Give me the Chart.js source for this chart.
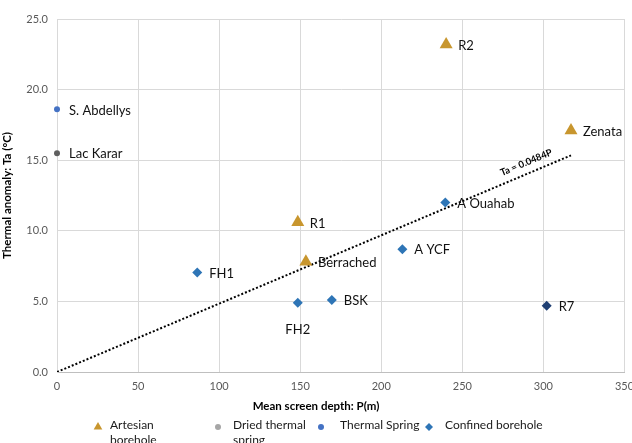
<!DOCTYPE html>
<html>
<head>
<meta charset="utf-8">
<script src="https://cdn.jsdelivr.net/npm/chart.js@4.4.1/dist/chart.umd.min.js"></script>
<style>
  html, body { margin: 0; padding: 0; background: #ffffff; }
  #wrap { width: 632px; height: 443px; }
</style>
</head>
<body>
<div id="wrap"><canvas id="chart" width="632" height="443"></canvas></div>
<script>
// Mean screen depth P (m) and thermal anomaly Ta (°C) per site
const artesianNames = ['R2', 'Zenata', 'R1', 'Berrached'];
const artesianDepth = [240, 317, 148.5, 153.5];
const artesianTa    = [23.2, 17.1, 10.6, 7.8];

const driedNames = ['Lac Karar'];
const driedDepth = [0];
const driedTa    = [15.5];

const springNames = ['S. Abdellys'];
const springDepth = [0];
const springTa    = [18.6];

const confinedNames = ['A Ouahab', 'FH1', 'FH2', 'BSK', 'A YCF', 'R7'];
const confinedDepth = [239.5, 86.5, 148.5, 169.5, 213, 302];
const confinedTa    = [12.0, 7.05, 4.9, 5.1, 8.7, 4.7];

// Regression through the origin: Ta = 0.0484 P
const trendSlope = 0.0484;
const trendRange = [0, 317];

const xTicks = [0, 50, 100, 150, 200, 250, 300, 350];
const yTicks = [0, 5, 10, 15, 20, 25];

const legendNames = ['Artesian\nborehole', 'Dried thermal\nspring', 'Thermal Spring', 'Confined borehole'];

const GOLD = '#C8962E';
const BLUE_SPRING = '#4472C4';
const BLUE_CONF = '#2E75B6';
const NAVY = '#1F3F73';
const GREY_DARK = '#5f5f5f';
const GREY_LEG = '#A6A6A6';

function pts(xs, ys, names) {
  return xs.map((x, i) => ({ x: x, y: ys[i], name: names[i] }));
}

// label placement per site: default to the right of the marker
const labelBelow = { 'FH2': true };

const dataLabels = {
  id: 'dataLabels',
  afterDatasetsDraw(chart) {
    const ctx = chart.ctx;
    ctx.save();
    ctx.font = '13px Lato';
    ctx.fillStyle = '#111111';
    ctx.textBaseline = 'middle';
    chart.data.datasets.forEach((ds, di) => {
      if (!ds.showLabels) return;
      const meta = chart.getDatasetMeta(di);
      meta.data.forEach((el, i) => {
        const name = ds.data[i].name;
        if (labelBelow[name]) {
          ctx.textAlign = 'center';
          ctx.fillText(name, el.x, el.y + 27);
        } else {
          ctx.textAlign = 'left';
          ctx.fillText(name, el.x + 12, el.y + 1);
        }
      });
    });

    // equation label along the trend line
    const xs = chart.scales.x, ys = chart.scales.y;
    const p0x = xs.getPixelForValue(trendRange[0]), p0y = ys.getPixelForValue(trendRange[0] * trendSlope);
    const p1x = xs.getPixelForValue(trendRange[1]), p1y = ys.getPixelForValue(trendRange[1] * trendSlope);
    const ang = Math.atan2(p1y - p0y, p1x - p0x);
    const px = xs.getPixelForValue(292), py = ys.getPixelForValue(292 * trendSlope);
    ctx.translate(px, py);
    ctx.rotate(ang);
    ctx.font = 'bold 9.5px Lato';
    ctx.fillStyle = '#000';
    ctx.textAlign = 'center';
    ctx.textBaseline = 'bottom';
    ctx.fillText('Ta = 0.0484P', 0, -6);
    ctx.restore();
  }
};

const bottomLegend = {
  id: 'bottomLegend',
  afterDraw(chart) {
    const ctx = chart.ctx;
    ctx.save();
    // x axis title
    ctx.font = 'bold 11.5px Lato';
    ctx.fillStyle = '#000';
    ctx.textAlign = 'center';
    ctx.textBaseline = 'middle';
    ctx.fillText('Mean screen depth: P(m)', 316, 406);

    const items = [
      { style: 'triangle', color: GOLD, mx: 98, tx: 110, r: 5 },
      { style: 'circle', color: GREY_LEG, mx: 218, tx: 233, r: 3 },
      { style: 'circle', color: BLUE_SPRING, mx: 321, tx: 340, r: 3 },
      { style: 'rectRot', color: BLUE_CONF, mx: 429, tx: 445, r: 4 }
    ];
    ctx.font = '12px Lato';
    ctx.textAlign = 'left';
    items.forEach((it, i) => {
      ctx.fillStyle = it.color;
      ctx.strokeStyle = it.color;
      Chart.helpers.drawPoint(ctx, { pointStyle: it.style, radius: it.r, borderWidth: 0, rotation: 0 }, it.mx, 427);
      ctx.fillStyle = '#1a1a1a';
      legendNames[i].split('\n').forEach((line, k) => {
        ctx.fillText(line, it.tx, 425 + k * 15);
      });
    });
    ctx.restore();
  }
};

new Chart(document.getElementById('chart'), {
  type: 'scatter',
  data: {
    datasets: [
      {
        label: 'Trend',
        type: 'line',
        data: trendRange.map(p => ({ x: p, y: p * trendSlope })),
        borderColor: '#000',
        borderWidth: 2,
        borderDash: [2, 2],
        pointRadius: 0,
        fill: false,
        order: 5
      },
      {
        label: 'Artesian borehole',
        data: pts(artesianDepth, artesianTa, artesianNames),
        pointStyle: 'triangle',
        pointRadius: 7.5,
        backgroundColor: GOLD,
        borderColor: GOLD,
        borderWidth: 0,
        clip: false,
        showLabels: true
      },
      {
        label: 'Dried thermal spring',
        data: pts(driedDepth, driedTa, driedNames),
        pointStyle: 'circle',
        pointRadius: 3,
        backgroundColor: GREY_DARK,
        borderColor: GREY_DARK,
        borderWidth: 0,
        clip: false,
        showLabels: true
      },
      {
        label: 'Thermal Spring',
        data: pts(springDepth, springTa, springNames),
        pointStyle: 'circle',
        pointRadius: 3,
        backgroundColor: BLUE_SPRING,
        borderColor: BLUE_SPRING,
        borderWidth: 0,
        clip: false,
        showLabels: true
      },
      {
        label: 'Confined borehole',
        data: pts(confinedDepth, confinedTa, confinedNames),
        pointStyle: 'rectRot',
        pointRadius: 5,
        backgroundColor: confinedNames.map(n => n === 'R7' ? NAVY : BLUE_CONF),
        borderColor: confinedNames.map(n => n === 'R7' ? NAVY : BLUE_CONF),
        borderWidth: 0,
        clip: false,
        showLabels: true
      }
    ]
  },
  options: {
    responsive: false,
    animation: false,
    devicePixelRatio: 1,
    layout: { padding: { top: 19, right: 6, left: 0, bottom: 0 } },
    plugins: {
      legend: { display: false },
      tooltip: { enabled: false }
    },
    scales: {
      x: {
        type: 'linear',
        min: xTicks[0],
        max: xTicks[xTicks.length - 1],
        afterBuildTicks(scale) { scale.ticks = xTicks.map(v => ({ value: v })); },
        afterFit(scale) { scale.height = 71; scale.paddingRight = 0; scale.paddingLeft = 0; },
        grid: { color: '#d9d9d9', lineWidth: 1, drawTicks: false },
        border: { color: '#bfbfbf', width: 1 },
        ticks: {
          padding: 8,
          color: '#595959',
          font: { family: 'Lato', size: 11 },
          callback: v => String(v)
        }
      },
      y: {
        type: 'linear',
        min: yTicks[0],
        max: yTicks[yTicks.length - 1],
        afterBuildTicks(scale) { scale.ticks = yTicks.map(v => ({ value: v })); },
        afterFit(scale) { scale.width = 57; },
        grid: { color: '#d9d9d9', lineWidth: 1, drawTicks: false },
        border: { color: '#d9d9d9', width: 1 },
        title: {
          display: true,
          text: 'Thermal anomaly: Ta (°C)',
          color: '#000',
          font: { family: 'Lato', size: 11.5, weight: 'bold' },
          padding: { top: 0, bottom: 0 }
        },
        ticks: {
          padding: 9,
          color: '#595959',
          font: { family: 'Lato', size: 11 },
          callback: v => Number(v).toFixed(1)
        }
      }
    }
  },
  plugins: [dataLabels, bottomLegend]
});
</script>
</body>
</html>
